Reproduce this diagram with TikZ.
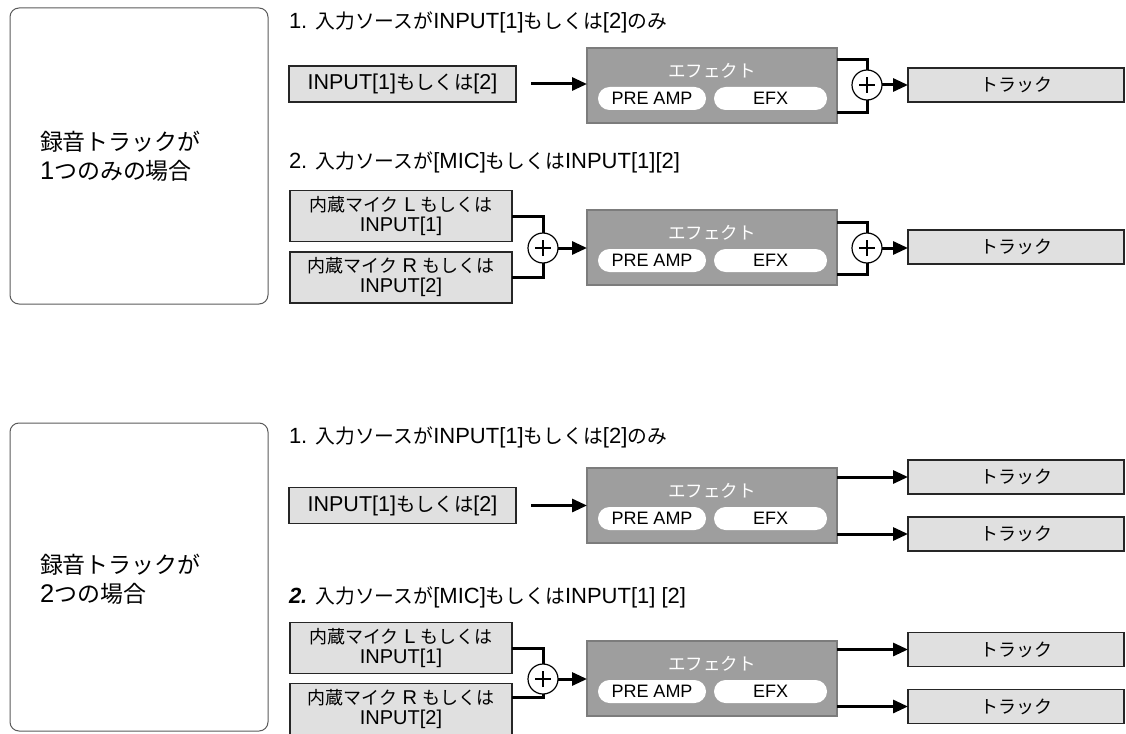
\documentclass[tikz,border=0pt]{standalone}
\usepackage{fontspec}
\setmainfont{Liberation Sans}
\newfontfamily\jafont{Noto Sans CJK JP}[Scale=0.9]
\newcommand\jtxt[1]{{\jafont #1}}
\usetikzlibrary{arrows.meta,positioning}

\definecolor{boxfill}{HTML}{E0E0E0}
\definecolor{efffill}{HTML}{9E9E9E}
\definecolor{effline}{HTML}{7C7C7C}
\definecolor{panelline}{HTML}{5A5A5A}

\tikzset{
  every node/.style={inner sep=0pt, outer sep=0pt},
  panel/.style={draw=panelline, line width=1pt, rounded corners=9pt},
  paneltext/.style={anchor=west, align=left, font=\fontsize{25.5}{29}\selectfont},
  heading/.style={anchor=west, font=\fontsize{22}{24}\selectfont},
  srcbox/.style={draw=black!85, line width=1.4pt, fill=boxfill, minimum width=227pt,
    minimum height=36pt, font=\fontsize{21.5}{21.5}\selectfont},
  micbox/.style={draw=black!85, line width=1.4pt, fill=boxfill, minimum width=222pt,
    minimum height=51pt, align=center, font=\fontsize{20}{20}\selectfont},
  trackbox/.style={draw=black!85, line width=1.4pt, fill=boxfill, minimum width=216pt,
    minimum height=34pt, font=\fontsize{20}{20}\selectfont},
  effbox/.style={draw=effline, line width=1.5pt, fill=efffill, minimum width=250pt,
    minimum height=75pt},
  efftitle/.style={text=white, font=\fontsize{19.5}{20}\selectfont},
  pill/.style={fill=white, rounded corners=11.5pt, minimum height=23pt,
    font=\fontsize{18}{18}\selectfont},
  sumnode/.style={circle, draw=black, line width=1.2pt, fill=white, minimum size=30pt,
    path picture={
      \draw[line width=2.7pt] ([xshift=-8pt]path picture bounding box.center)
        -- ([xshift=8pt]path picture bounding box.center);
      \draw[line width=2.7pt] ([yshift=-8pt]path picture bounding box.center)
        -- ([yshift=8pt]path picture bounding box.center);
    }},
  conn/.style={line width=3pt, black},
  arr/.style={-{Triangle[length=15pt,width=13pt]}},
}

\begin{document}
\begin{tikzpicture}[x=1pt,y=-1pt]
  \clip (0,0) rectangle (1126,733);

  % Paneles de la izquierda
  \draw[panel] (10,8) rectangle (268,304);
  \draw[panel] (10,423) rectangle (268,731);
  \node[paneltext] (p1) at (40,156) {\jtxt{録音トラックが}\\1\jtxt{つのみの場合}};
  \node[paneltext] (p2) at (40,579.5) {\jtxt{録音トラックが}\\2\jtxt{つの場合}};

  % Titulos
  \node[heading] (h1) at (289,22)
    {1. \jtxt{入力ソースが}INPUT[1]\jtxt{もしくは}[2]\jtxt{のみ}};
  \node[heading] (h2) at (289,162)
    {2. \jtxt{入力ソースが}[MIC]\jtxt{もしくは}INPUT[1][2]};
  \node[heading] (h3) at (289,437)
    {1. \jtxt{入力ソースが}INPUT[1]\jtxt{もしくは}[2]\jtxt{のみ}};
  \node[heading] (h4) at (289,597)
    {\textbf{\textit{2.}} \jtxt{入力ソースが}[MIC]\jtxt{もしくは}INPUT[1] [2]};

  % Bloques de efecto
  \foreach \e/\y in {eff1/85.5, eff2/247.5, eff3/505.5, eff4/678.5} {
    \node[effbox] (\e) at (712,\y) {};
    \node[efftitle] (\e t) at ([yshift=-23pt]\e.north) {\jtxt{エフェクト}};
    \node[pill, anchor=west, minimum width=108pt] (\e a)
      at ([xshift=11pt,yshift=-50.5pt]\e.north west) {PRE AMP};
    \node[pill, anchor=east, minimum width=113pt] (\e b)
      at ([xshift=-10pt,yshift=-50.5pt]\e.north east) {EFX};
  }

  % Entradas
  \node[srcbox] (in1) at (402.5,84) {INPUT[1]\jtxt{もしくは}[2]};
  \node[srcbox] (in3) at (402.5,505.5) {INPUT[1]\jtxt{もしくは}[2]};
  \node[micbox] (micL2) at (401,216) {\jtxt{内蔵マイク} L \jtxt{もしくは}\\INPUT[1]};
  \node[micbox] (micR2) at (401,277.5) {\jtxt{内蔵マイク} R \jtxt{もしくは}\\INPUT[2]};
  \node[micbox] (micL4) at (401,648) {\jtxt{内蔵マイク} L \jtxt{もしくは}\\INPUT[1]};
  \node[micbox] (micR4) at (401,709) {\jtxt{内蔵マイク} R \jtxt{もしくは}\\INPUT[2]};

  % Sumadores
  \node[sumnode] (s1) at (867,85) {};
  \node[sumnode] (s2) at (543,248) {};
  \node[sumnode] (s2o) at (867,248) {};
  \node[sumnode] (s4) at (543,679) {};

  % Pistas
  \node[trackbox] (tr1) at (1016,85) {\jtxt{トラック}};
  \node[trackbox] (tr2) at (1016,247) {\jtxt{トラック}};
  \node[trackbox] (tr3a) at (1016,477) {\jtxt{トラック}};
  \node[trackbox] (tr3b) at (1016,534) {\jtxt{トラック}};
  \node[trackbox] (tr4a) at (1016,649.5) {\jtxt{トラック}};
  \node[trackbox] (tr4b) at (1016,706.5) {\jtxt{トラック}};

  % Conexiones, fila 1
  \draw[conn,arr,shorten <=15pt] (in1.east) -- (in1.east -| eff1.west);
  \draw[conn] ([yshift=-12pt]eff1.north east) -| (s1.north);
  \draw[conn] ([yshift=10pt]eff1.south east) -| (s1.south);
  \draw[conn,arr] (s1) -- (s1 -| tr1.west);

  % Conexiones, fila 2
  \draw[conn] (micL2.east) -| (s2.north);
  \draw[conn] (micR2.east) -| (s2.south);
  \draw[conn,arr] (s2) -- (s2 -| eff2.west);
  \draw[conn] ([yshift=-12pt]eff2.north east) -| (s2o.north);
  \draw[conn] ([yshift=11pt]eff2.south east) -| (s2o.south);
  \draw[conn,arr] (s2o) -- (s2o -| tr2.west);

  % Conexiones, fila 3
  \draw[conn,arr,shorten <=15pt] (in3.east) -- (in3.east -| eff3.west);
  \foreach \t in {tr3a, tr3b}
    \draw[conn,arr] (\t.west -| eff3.east) -- (\t.west);

  % Conexiones, fila 4
  \draw[conn] (micL4.east) -| (s4.north);
  \draw[conn] ([yshift=12pt]micR4.east) -| (s4.south);
  \draw[conn,arr] (s4) -- (s4 -| eff4.west);
  \foreach \t in {tr4a, tr4b}
    \draw[conn,arr] (\t.west -| eff4.east) -- (\t.west);
\end{tikzpicture}
\end{document}
